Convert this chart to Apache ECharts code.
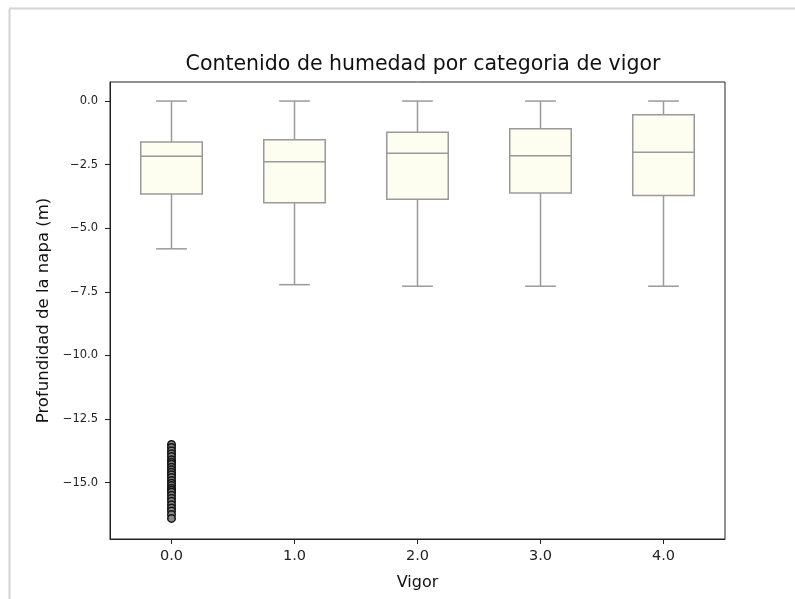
<!DOCTYPE html>
<html>
<head>
<meta charset="utf-8">
<script src="https://cdn.jsdelivr.net/npm/echarts@6/dist/echarts.min.js"></script>
<style>
html,body{margin:0;padding:0;background:#fff;}
#chart{width:795px;height:599px;}
</style>
</head>
<body>
<div id="chart"></div>
<script>
// Categories and box statistics
var categories = ['0.0', '1.0', '2.0', '3.0', '4.0'];
var whiskerLow  = [-5.81, -7.22, -7.28, -7.28, -7.28];
var q1Values    = [-3.65, -4.00, -3.86, -3.61, -3.71];
var medians     = [-2.17, -2.39, -2.05, -2.15, -2.01];
var q3Values    = [-1.61, -1.52, -1.23, -1.09, -0.54];
var whiskerHigh = [0, 0, 0, 0, 0];
// Outliers (category 0.0)
var outliers0 = [-13.50, -13.62, -13.75, -13.87, -13.98, -14.10, -14.20, -14.28, -14.40, -14.50,
                 -14.60, -14.69, -14.80, -14.92, -15.03, -15.12, -15.22, -15.30, -15.38, -15.50,
                 -15.62, -15.74, -15.87, -16.00, -16.12, -16.26, -16.41];
var yTicks = [0, -2.5, -5, -7.5, -10, -12.5, -15];

var boxData = categories.map(function (c, i) {
  return [i, whiskerLow[i], q1Values[i], medians[i], q3Values[i], whiskerHigh[i]];
});
var outlierData = outliers0.map(function (v) { return [0, v]; });

var chart = echarts.init(document.getElementById('chart'), null, {renderer: 'canvas'});
var font = 'DejaVu Sans';
var edge = '#9a9a9a';
function fmt(v) {
  var s = Number(v).toFixed(1);
  return s.replace('-', '\u2212');
}
chart.setOption({
  backgroundColor: '#fff',
  animation: false,
  title: {
    text: 'Contenido de humedad por categoria de vigor',
    left: 418, top: 49, textAlign: 'center',
    textStyle: {fontFamily: font, fontSize: 20.5, fontWeight: 'normal', color: '#111'}
  },
  graphic: [
    {type: 'line', shape: {x1: 9.5, y1: 9, x2: 9.5, y2: 599}, style: {stroke: '#d4d4d4', lineWidth: 2}},
    {type: 'line', shape: {x1: 9, y1: 8.5, x2: 795, y2: 8.5}, style: {stroke: '#d4d4d4', lineWidth: 2}}
  ],
  grid: {left: 110, right: 70, top: 82, bottom: 60, show: true, borderColor: '#222', borderWidth: 1, backgroundColor: 'transparent'},
  xAxis: {
    type: 'category', data: categories, boundaryGap: true,
    name: 'Vigor', nameLocation: 'middle', nameGap: 36,
    nameTextStyle: {fontFamily: font, fontSize: 16, color: '#111'},
    axisLine: {show: true, onZero: false, lineStyle: {color: '#222', width: 1}},
    axisTick: {show: true, alignWithLabel: true, length: 5, lineStyle: {color: '#222'}},
    axisLabel: {fontFamily: font, fontSize: 14.5, color: '#222', margin: 10},
    splitLine: {show: false}
  },
  yAxis: {
    type: 'value', min: -17.22, max: 0.75,
    name: 'Profundidad de la napa (m)', nameLocation: 'middle', nameGap: 56,
    nameTextStyle: {fontFamily: font, fontSize: 16.5, color: '#111'},
    axisLine: {show: true, onZero: false, lineStyle: {color: '#222', width: 1}},
    axisTick: {show: true, length: 5, customValues: yTicks, lineStyle: {color: '#222'}},
    axisLabel: {fontFamily: font, fontSize: 11.5, color: '#222', margin: 12, customValues: yTicks, formatter: fmt},
    splitLine: {show: false}
  },
  series: [
    {
      type: 'custom',
      data: boxData,
      encode: {x: 0, y: [1, 2, 3, 4, 5]},
      z: 2,
      renderItem: function (params, api) {
        var x = api.value(0);
        var pLow = api.coord([x, api.value(1)]);
        var pQ1 = api.coord([x, api.value(2)]);
        var pMed = api.coord([x, api.value(3)]);
        var pQ3 = api.coord([x, api.value(4)]);
        var pHigh = api.coord([x, api.value(5)]);
        var bw = api.size([1, 0])[0] * 0.5;
        var cx = pMed[0];
        var cap = bw / 4;
        var ls = {stroke: edge, lineWidth: 1.5, fill: null};
        return {
          type: 'group',
          children: [
            {type: 'line', shape: {x1: cx, y1: pQ1[1], x2: cx, y2: pLow[1]}, style: ls},
            {type: 'line', shape: {x1: cx, y1: pQ3[1], x2: cx, y2: pHigh[1]}, style: ls},
            {type: 'line', shape: {x1: cx - cap, y1: pLow[1], x2: cx + cap, y2: pLow[1]}, style: ls},
            {type: 'line', shape: {x1: cx - cap, y1: pHigh[1], x2: cx + cap, y2: pHigh[1]}, style: ls},
            {type: 'rect', shape: {x: cx - bw / 2, y: pQ3[1], width: bw, height: pQ1[1] - pQ3[1]},
             style: {fill: '#fdfdf0', stroke: edge, lineWidth: 1.5}},
            {type: 'line', shape: {x1: cx - bw / 2, y1: pMed[1], x2: cx + bw / 2, y2: pMed[1]}, style: ls}
          ]
        };
      }
    },
    {
      type: 'scatter',
      data: outlierData,
      symbol: 'circle', symbolSize: 7.5,
      itemStyle: {color: '#8a8a8a', borderColor: '#111', borderWidth: 1.5, opacity: 1},
      z: 3
    }
  ]
});
</script>
</body>
</html>
